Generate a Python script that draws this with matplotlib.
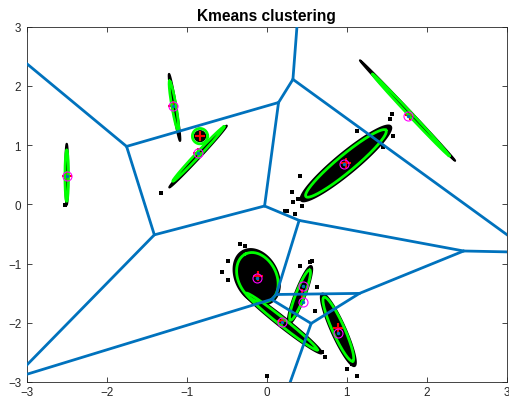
import numpy as np
import matplotlib
matplotlib.use("Agg")
import matplotlib.pyplot as plt

plt.rcParams['font.family'] = ['Liberation Sans', 'DejaVu Sans']

# ---------------- data ----------------
# k-means centres (Voronoi sites, magenta circles)
gen_x = [-2.50, -1.175, -0.862, 1.77, 0.968, -0.117, 0.452, 0.457, 0.188, 0.888]
gen_y = [0.481, 1.664, 0.862, 1.497, 0.679, -1.247, -1.377, -1.657, -1.985, -2.170]

# true means (red plus)
plus_x = [-2.50, -1.175, -0.834, -0.862, 1.79, 0.985, -0.113, 0.437, 0.19, 0.888]
plus_y = [0.481, 1.664, 1.150, 0.862, 1.50, 0.690, -1.206, -1.517, -1.97, -2.085]

# Gaussian contour ellipses: centre, major semi-axis vector, minor semi-axis vector
ell_cx = [-2.50, -1.16, -0.834, -0.854, 1.80, 0.99, -0.117, 0.416, 0.187, 0.895]
ell_cy = [0.48, 1.66, 1.15, 0.848, 1.51, 0.69, -1.235, -1.534, -1.98, -2.108]
ell_ux = [0.0, -0.054, 0.096, 0.32, 0.48, 0.50, -0.150, 0.121, 0.444, 0.18]
ell_uy = [0.43, 0.42, 0.0, 0.46, -0.69, 0.56, 0.395, 0.423, -0.478, -0.54]
ell_vx = [0.022, 0.026, 0.0, 0.019, 0.016, 0.068, 0.212, 0.050, 0.028, 0.068]
ell_vy = [0.0, 0.006, 0.13, -0.024, 0.020, -0.110, 0.145, -0.026, 0.047, 0.041]

# extent of the dense point clouds
cloud_cx = [-2.50, -1.1525, -0.834, -0.8585, 1.76, 0.99, -0.125, 0.416, 0.187, 0.895]
cloud_cy = [0.505, 1.635, 1.15, 0.8055, 1.582, 0.69, -1.225, -1.53, -1.98, -2.12]
cloud_ux = [0.0, -0.0685, 0.065, 0.3585, 0.594, 0.56, -0.168, 0.139, 0.50, 0.203]
cloud_uy = [0.515, 0.565, 0.0, 0.5205, -0.847, 0.625, 0.44, 0.487, -0.535, -0.61]
cloud_vx = [0.018, 0.022, 0.0, 0.018, 0.014, 0.082, 0.235, 0.06, 0.038, 0.08]
cloud_vy = [0.0, 0.004, 0.085, -0.022, 0.018, -0.135, 0.16, -0.031, 0.064, 0.048]

# scattered points outside the dense clouds
out_x = [-2.517, -1.321, 1.5625, 1.544, 1.583, 1.457, 0.3125, 0.395, 0.416, 0.229,
         0.354, 0.4375, 1.125, -0.5625, -0.334, -0.48, -0.271, 0.416, 0.5625, 0.54,
         0.625, 0.604, 1.125, 1.0, 1.0625, 0.729, 0.6875, 0.0, 0.25, 0.333, -0.48]
out_y = [-0.008, 0.189, 1.525, 1.44, 1.157, 0.961, 0.211, 0.088, 0.471, -0.11,
         -0.166, -0.025, 1.24, -1.15, -0.672, -0.954, -0.711, -1.04, -0.954, -0.98,
         -1.40, -1.80, -2.90, -2.78, -2.70, -2.586, -2.50, -2.897, -0.11, 0.03, -1.27]

x_ticks = [-3, -2, -1, 0, 1, 2, 3]
y_ticks = [-3, -2, -1, 0, 1, 2, 3]
title = "Kmeans clustering"

# ---------------- figure ----------------
fig = plt.figure(figsize=(5.10, 4.06), dpi=100)
ax = fig.add_axes([0.0524, 0.0567, 0.9412, 0.8754])

t = np.linspace(0, 2 * np.pi, 240)
for i in range(len(cloud_cx)):
    px = cloud_cx[i] + cloud_ux[i] * np.cos(t) + cloud_vx[i] * np.sin(t)
    py = cloud_cy[i] + cloud_uy[i] * np.cos(t) + cloud_vy[i] * np.sin(t)
    ax.fill(px, py, color='black', lw=1.5, ec='black', zorder=2)

ax.plot(out_x, out_y, 's', color='black', ms=2.6, mew=0, zorder=2)

ax.plot(plus_x, plus_y, '+', color='red', ms=7, mew=1.5, zorder=3)

for i in range(len(ell_cx)):
    px = ell_cx[i] + ell_ux[i] * np.cos(t) + ell_vx[i] * np.sin(t)
    py = ell_cy[i] + ell_uy[i] * np.cos(t) + ell_vy[i] * np.sin(t)
    ax.plot(px, py, color='#00FF00', lw=2.0, zorder=4)

# Voronoi diagram of the centres (bisector segments)
G = np.column_stack([gen_x, gen_y])
BIG = 50.0
n = len(G)
for i in range(n):
    for j in range(i + 1, n):
        ci, cj = G[i], G[j]
        m = (ci + cj) / 2
        nv = cj - ci
        d = np.array([-nv[1], nv[0]]) / np.hypot(*nv)
        cons = []
        for k in range(n):
            if k in (i, j):
                continue
            a = 2 * (G[k] - ci)
            b = G[k] @ G[k] - ci @ ci
            cons.append((a, b))
        for a in (np.array([1.0, 0]), np.array([-1.0, 0]), np.array([0, 1.0]), np.array([0, -1.0])):
            cons.append((a, BIG))
        lo, hi = -np.inf, np.inf
        ok = True
        for a, b in cons:
            ad = a @ d
            am = a @ m
            if abs(ad) < 1e-12:
                if am > b:
                    ok = False
                    break
            elif ad > 0:
                hi = min(hi, (b - am) / ad)
            else:
                lo = max(lo, (b - am) / ad)
        if ok and lo < hi - 1e-9:
            p0 = m + lo * d
            p1 = m + hi * d
            ax.plot([p0[0], p1[0]], [p0[1], p1[1]], color='#0072BD', lw=2.0,
                    solid_capstyle='round', zorder=5)

ax.plot(gen_x, gen_y, 'o', mfc='none', mec='#FF00FF', ms=6.5, mew=0.8, zorder=6)
ax.plot(gen_x, gen_y, '.', color='#0072BD', ms=3, zorder=6)

ax.set_xlim(-3, 3)
ax.set_ylim(-3, 3)
ax.set_xticks(x_ticks)
ax.set_yticks(y_ticks)
ax.tick_params(direction='in', length=3.5, width=0.6, colors='#262626',
               top=True, right=True, labelsize=8.4)
ax.tick_params(axis='x', pad=3)
ax.tick_params(axis='y', pad=4)
for s in ax.spines.values():
    s.set_color('#262626')
    s.set_linewidth(0.6)
ax.set_title(title, fontsize=11.2, fontweight='bold', pad=5, color='black')

fig.savefig('out.png', dpi=100)
